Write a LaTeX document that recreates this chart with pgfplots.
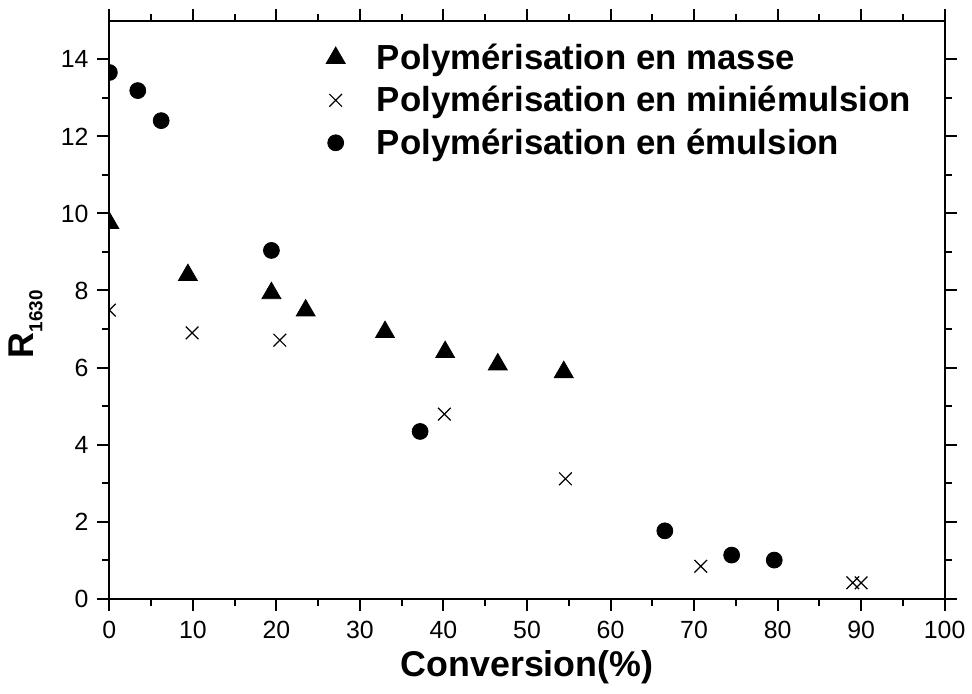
\documentclass[border=0pt]{standalone}
\usepackage{fontspec}
\setmainfont{Liberation Sans}
\usepackage{pgfplots}
\pgfplotsset{compat=1.18}
\begin{document}
\begin{tikzpicture}
\begin{axis}[
  name=ax,
  scale only axis,
  width=420pt, height=290.5pt,
  xmin=0, xmax=100, ymin=0, ymax=15,
  clip marker paths=true,
  xtick={0,10,...,100}, ytick={0,2,...,14},
  minor x tick num=1, minor y tick num=1,
  tick align=outside,
  major tick length=6pt, minor tick length=3.5pt,
  every tick/.style={black, line width=1pt},
  axis line style={line width=1pt},
  /pgf/number format/assume math mode=true,
  tick label style={font=\fontsize{12.5}{14}\selectfont},
  xticklabel style={yshift=-2pt},
  yticklabel style={xshift=-1pt},
  xlabel={\textbf{Conversion(\%)}},
  xlabel style={font=\fontsize{18}{20}\selectfont, at={(axis description cs:0.5,-0.118)}, anchor=center},
  ylabel={\textbf{R}\raisebox{-0.45ex}{\fontsize{9.5}{10}\selectfont\textbf{1630}}},
  ylabel style={font=\fontsize{18}{20}\selectfont, at={(axis description cs:-0.10,0.475)}, anchor=center, rotate=0},
  legend style={draw=none, fill=none, at={(0.252,0.975)}, anchor=north west,
    font=\fontsize{17.5}{21}\selectfont\bfseries, row sep=3pt, column sep=14pt},
  legend cell align=left,
]
\addplot[only marks, mark=triangle*, mark size=5.5pt, black] coordinates {
(0,9.75) (9.4,8.40) (19.4,7.93) (23.5,7.48) (33.0,6.92) (40.2,6.40) (46.5,6.08) (54.4,5.88)};
\addlegendentry{Polymérisation en masse}
\addplot[only marks, mark=x, mark size=4.5pt, black, line width=0.6pt] coordinates {
(0,7.49) (9.9,6.90) (20.4,6.71) (40.1,4.79) (54.6,3.11) (70.8,0.84) (89.0,0.41) (90.0,0.41)};
\addlegendentry{Polymérisation en miniémulsion}
\addplot[only marks, mark=*, mark size=4pt, black] coordinates {
(0,13.66) (3.4,13.19) (6.2,12.41) (19.4,9.04) (37.2,4.34) (66.5,1.76) (74.5,1.13) (79.6,1.0)};
\addlegendentry{Polymérisation en émulsion}
\end{axis}
\path[use as bounding box] ([shift={(-55pt,-47.5pt)}]ax.south west) rectangle ([shift={(11pt,10.5pt)}]ax.north east);
\end{tikzpicture}
\end{document}
